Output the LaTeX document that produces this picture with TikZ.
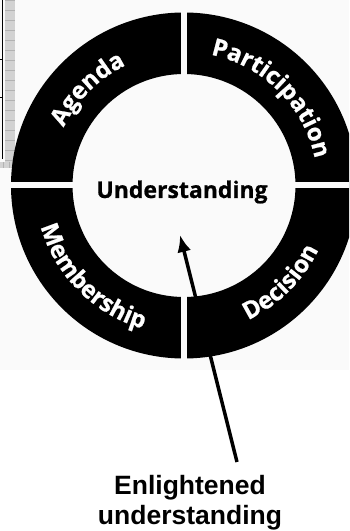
\documentclass[tikz,border=0pt]{standalone}
\usepackage{fontspec}
\setmainfont{Liberation Sans}
\newfontfamily\ringfont{Open Sans}[BoldFeatures={FakeBold=0.8}]
\usetikzlibrary{arrows.meta,decorations.text,positioning}
\definecolor{paper}{gray}{0.98}
\newcommand\ringtype{\ringfont\bfseries\fontsize{24}{24}\selectfont}

\begin{document}
\begin{tikzpicture}[x=1pt,y=1pt,>=Latex]
	\tikzstyle{ring}=[fill=black,even odd rule]
	\tikzstyle{gap}=[draw=paper,line width=6pt]
	\tikzstyle{ringword}=[decorate,decoration={text along path,text align=center,text color=white}]
	\tikzstyle{arrowline}=[-{Latex[length=17pt,width=14pt]},line width=3.5pt]
	\clip (0,0) rectangle (349,531);
	\fill[paper] (0,161) rectangle (349,531);
	\fill[gray!35] (5,363) rectangle (15,531);
	\fill[gray!35] (0,363) rectangle (15,369);
	\foreach \y in {371,381,...,531} \draw[gray!60,thin] (5,\y) -- (15,\y);
	\foreach \x in {3,9} \draw[gray!60,thin] (\x,363) -- (\x,369);
	\draw[line width=1.2pt] (2.5,372) -- (2.5,531);
	\foreach \y in {433,471} \draw[line width=1pt] (0,\y) -- (2.5,\y);
	\coordinate (c) at (184,345.5);
	\fill[ring] (c) circle (173) (c) circle (111.5);
	\draw[gap] (c) ++(-180,0) -- ++(360,0);
	\draw[gap] (c) ++(0,-180) -- ++(0,360);
	\path[ringword,decoration={text={|\ringtype|Agenda}}] (c) ++(180:133.5) arc[start angle=180,end angle=90,radius=133.5];
	\path[ringword,decoration={text={|\ringtype|Participation}}] (c) ++(90:133.5) arc[start angle=90,end angle=0,radius=133.5];
	\path[ringword,decoration={text={|\ringtype|Membership}}] (c) ++(180:149) arc[start angle=180,end angle=270,radius=149];
	\path[ringword,decoration={text={|\ringtype|Decision}}] (c) ++(270:149) arc[start angle=270,end angle=360,radius=149];
	\node[font=\ringfont\bfseries\fontsize{23}{23}\selectfont] (und) at (182,339) {Understanding};
	\node[font=\bfseries\fontsize{26.5}{30}\selectfont,align=center,inner sep=0pt] (enl) at (190,28) {Enlightened\\understanding};
	\coordinate (tail) at (237,69);
	\coordinate (tip) at (180,296);
	\draw[arrowline] (tail) -- (tip);
\end{tikzpicture}
\end{document}
